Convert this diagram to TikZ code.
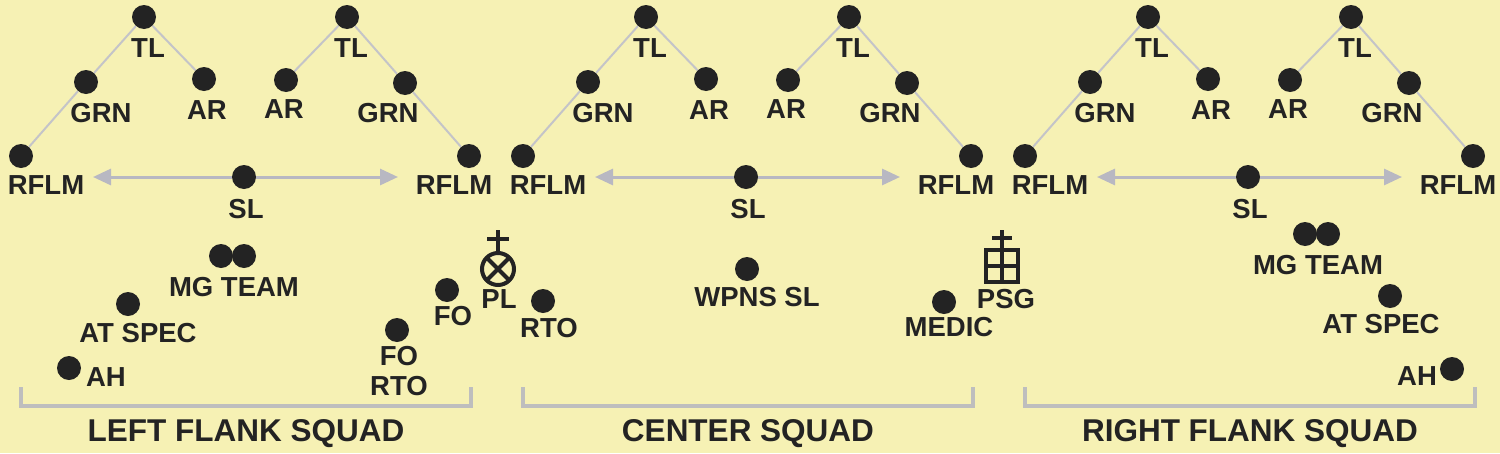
\documentclass[tikz,border=0pt]{standalone}
\usepackage{fontspec}
\setmainfont{Liberation Sans}
\usetikzlibrary{arrows.meta,positioning,calc}
\definecolor{bgyellow}{RGB}{246,241,180}
\definecolor{ink}{RGB}{35,35,35}
\definecolor{wedgegray}{RGB}{196,196,200}
\definecolor{arrowgray}{RGB}{184,184,194}
\definecolor{bracketgray}{RGB}{190,190,190}
\tikzset{
man/.style={circle,fill=ink,inner sep=0pt,minimum size=24pt},
lbl/.style={font=\fontsize{27.5}{27.5}\selectfont\bfseries,text=ink,inner sep=0pt,text height=19.7pt,text depth=0pt},
sqlbl/.style={font=\fontsize{31.5}{31.5}\selectfont\bfseries,text=ink,inner sep=0pt,text height=22.5pt,text depth=0pt},
wedge/.style={draw=wedgegray,line width=2pt},
spread/.style={draw=arrowgray,line width=3pt,-{Triangle[length=18pt,width=16pt]}},
bracket/.style={draw=bracketgray,line width=4pt},
symbol/.style={draw=ink,line width=4pt,inner sep=0pt,outer sep=0pt},
symline/.style={draw=ink,line width=4pt}
}
\newcommand \mydrawsquad[3]
{
\node[man] (#2tla)   at (#1+144,17) {};
\node[man] (#2grna)  at (#1+86,82)  {};
\node[man] (#2ara)   at (#1+204,79) {};
\node[man] (#2tlb)   at (#1+347,17) {};
\node[man] (#2arb)   at (#1+286,80) {};
\node[man] (#2grnb)  at (#1+405,83) {};
\node[man] (#2rflma) at (#1+21,156) {};
\node[man] (#2rflmb) at (#1+469,156) {};
\node[man] (#2sl)    at (#1+244,177) {};
\node[lbl] (#2tlal)   at (#1+148,48)  {TL};
\node[lbl] (#2grnal)  at (#1+101,113) {GRN};
\node[lbl] (#2aral)   at (#1+207,110) {AR};
\node[lbl] (#2tlbl)   at (#1+351,48)  {TL};
\node[lbl] (#2arbl)   at (#1+284,109) {AR};
\node[lbl] (#2grnbl)  at (#1+388,113) {GRN};
\node[lbl] (#2rflmal) at (#1+46,185)  {RFLM};
\node[lbl] (#2rflmbl) at (#1+454,185) {RFLM};
\node[lbl] (#2sll)    at (#1+246,209) {SL};
\coordinate (#2left)  at (#1+93,177);
\coordinate (#2right) at (#1+398,177);
\draw[wedge] (#2tla)--(#2grna)--(#2rflma) (#2tla)--(#2ara);
\draw[wedge] (#2tlb)--(#2arb) (#2tlb)--(#2grnb)--(#2rflmb);
\draw[spread] (#2sl)--(#2left);
\draw[spread] (#2sl)--(#2right);
\draw[bracket] (#1+21,387) |- (#1+471,406) -- (#1+471,387);
\node[sqlbl] (#2name) at (#1+246,430) {#3};
}
\begin{document}
\begin{tikzpicture}[x=1pt,y=-1pt]
\fill[bgyellow] (0,0) rectangle (1500,453);
\useasboundingbox (0,0) rectangle (1500,453);
\mydrawsquad{0}{lf}{LEFT FLANK SQUAD}
\mydrawsquad{502}{ce}{CENTER SQUAD}
\mydrawsquad{1004}{rf}{RIGHT FLANK SQUAD}
% left flank squad
\node[man] (lfmga)  at (221,256) {};
\node[man] (lfmgb)  at (244,256) {};
\node[lbl] (lfmgl)  at (234,287) {MG TEAM};
\node[man] (lfat)   at (128,304) {};
\node[lbl] (lfatl)  at (138,333) {AT SPEC};
\node[man] (lfah)   at (69,368)  {};
\node[lbl] (lfahl)  at (106,377) {AH};
\node[man] (lffo)   at (447,290) {};
\node[lbl] (lffol)  at (453,316) {FO};
\node[man] (lfrto)  at (397,330) {};
\node[lbl] (lfrtol) at (399,356) {FO};
\node[lbl] (lfrtom) at (399,386) {RTO};
% platoon HQ
\node[symbol,circle,minimum size=32pt] (pl) at (498,269) {};
\draw[symline] (pl.north west)--(pl.south east) (pl.north east)--(pl.south west);
\draw[symline] (pl.north)--([yshift=23pt]pl.north);
\draw[symline] ([xshift=-11pt,yshift=14pt]pl.north)--([xshift=11pt,yshift=14pt]pl.north);
\node[lbl] (pll)    at (499,299) {PL};
\node[man] (rto)    at (543,301) {};
\node[lbl] (rtol)   at (549,328) {RTO};
\node[man] (wpns)   at (747,269) {};
\node[lbl] (wpnsl)  at (757,297) {WPNS SL};
\node[man] (medic)  at (944,302) {};
\node[lbl] (medicl) at (949,327) {MEDIC};
\node[symbol,rectangle,minimum width=32pt,minimum height=32pt] (psg) at (1002,266) {};
\draw[symline] (psg.north)--(psg.south) (psg.west)--(psg.east);
\draw[symline] (psg.north)--([yshift=20pt]psg.north);
\draw[symline] ([xshift=-10pt,yshift=12pt]psg.north)--([xshift=10pt,yshift=12pt]psg.north);
\node[lbl] (psgl)   at (1006,299) {PSG};
% right flank squad
\node[man] (rfmga)  at (1305,234) {};
\node[man] (rfmgb)  at (1328,234) {};
\node[lbl] (rfmgl)  at (1318,265) {MG TEAM};
\node[man] (rfat)   at (1390,296) {};
\node[lbl] (rfatl)  at (1381,324) {AT SPEC};
\node[man] (rfah)   at (1452,369) {};
\node[lbl] (rfahl)  at (1417,376) {AH};
\end{tikzpicture}
\end{document}
